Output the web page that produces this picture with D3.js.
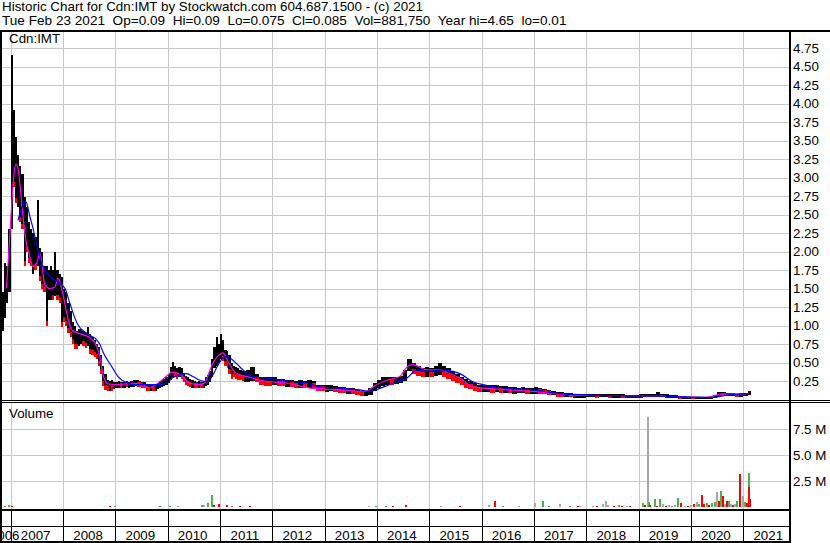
<!DOCTYPE html>
<html><head><meta charset="utf-8">
<script src="https://cdn.jsdelivr.net/npm/d3@7"></script>
<style>
html,body{margin:0;padding:0;background:#fff;}
svg{display:block;font-family:"Liberation Sans",Arial,sans-serif;}
</style></head><body>
<svg id="c" width="830" height="543"></svg>
<script>
// ---------------- data ----------------
const title1 = "Historic Chart for Cdn:IMT by Stockwatch.com 604.687.1500 - (c) 2021";
const title2 = "Tue Feb 23 2021  Op=0.09  Hi=0.09  Lo=0.075  Cl=0.085  Vol=881,750  Year hi=4.65  lo=0.01";
const symbolLabel = "Cdn:IMT";
const volumeLabel = "Volume";
const yearLabels = [2006,2007,2008,2009,2010,2011,2012,2013,2014,2015,2016,2017,2018,2019,2020,2021];
const priceTicks = [0.25,0.5,0.75,1,1.25,1.5,1.75,2,2.25,2.5,2.75,3,3.25,3.5,3.75,4,4.25,4.5,4.75];
const volTicks = [2.5,5,7.5];
const lastDate = "2021-02-23";

const barDates = [
"2006-11-01","2006-11-16","2006-12-01","2006-12-16",
"2007-01-01","2007-01-16","2007-02-01","2007-02-16","2007-03-01","2007-03-16","2007-04-01","2007-04-16","2007-05-01","2007-05-16","2007-06-01","2007-06-16",
"2007-07-01","2007-07-16","2007-08-01","2007-08-16","2007-09-01","2007-09-16","2007-10-01","2007-10-16","2007-11-01","2007-11-16","2007-12-01","2007-12-16",
"2008-01-01","2008-01-16","2008-02-01","2008-02-16","2008-03-01","2008-03-16","2008-04-01","2008-04-16","2008-05-01","2008-05-16","2008-06-01","2008-06-16",
"2008-07-01","2008-07-16","2008-08-01","2008-08-16","2008-09-01","2008-09-16","2008-10-01","2008-10-16","2008-11-01","2008-11-16","2008-12-01","2008-12-16",
"2009-01-01","2009-01-16","2009-02-01","2009-02-16","2009-03-01","2009-03-16","2009-04-01","2009-04-16","2009-05-01","2009-05-16","2009-06-01","2009-06-16",
"2009-07-01","2009-07-16","2009-08-01","2009-08-16","2009-09-01","2009-09-16","2009-10-01","2009-10-16","2009-11-01","2009-11-16","2009-12-01","2009-12-16",
"2010-01-01","2010-01-16","2010-02-01","2010-02-16","2010-03-01","2010-03-16","2010-04-01","2010-04-16","2010-05-01","2010-05-16","2010-06-01","2010-06-16",
"2010-07-01","2010-07-16","2010-08-01","2010-08-16","2010-09-01","2010-09-16","2010-10-01","2010-10-16","2010-11-01","2010-11-16","2010-12-01","2010-12-16",
"2011-01-01","2011-01-16","2011-02-01","2011-02-16","2011-03-01","2011-03-16","2011-04-01","2011-04-16","2011-05-01","2011-05-16","2011-06-01","2011-06-16",
"2011-07-01","2011-08-01","2011-09-01","2011-10-01","2011-11-01","2011-12-01",
"2012-01-01","2012-02-01","2012-03-01","2012-04-01","2012-05-01","2012-06-01","2012-07-01","2012-08-01","2012-09-01","2012-10-01","2012-11-01","2012-12-01",
"2013-01-01","2013-02-01","2013-03-01","2013-04-01","2013-05-01","2013-06-01","2013-07-01","2013-08-01","2013-09-01","2013-10-01","2013-11-01","2013-12-01",
"2014-01-01","2014-02-01","2014-03-01","2014-04-01","2014-05-01","2014-06-01","2014-07-01","2014-08-01","2014-09-01","2014-10-01","2014-11-01","2014-12-01",
"2015-01-01","2015-02-01","2015-03-01","2015-04-01","2015-05-01","2015-06-01","2015-07-01","2015-08-01","2015-09-01","2015-10-01","2015-11-01","2015-12-01",
"2016-01-01","2016-02-01","2016-03-01","2016-04-01","2016-05-01","2016-06-01","2016-07-01","2016-08-01","2016-09-01","2016-10-01","2016-11-01","2016-12-01",
"2017-01-01","2017-02-01","2017-03-01","2017-04-01","2017-05-01","2017-06-01","2017-07-01","2017-08-01","2017-09-01","2017-10-01","2017-11-01","2017-12-01",
"2018-01-01","2018-02-01","2018-03-01","2018-04-01","2018-05-01","2018-06-01","2018-07-01","2018-08-01","2018-09-01","2018-10-01","2018-11-01","2018-12-01",
"2019-01-01","2019-02-01","2019-03-01","2019-04-01","2019-05-01","2019-06-01","2019-07-01","2019-08-01","2019-09-01","2019-10-01","2019-11-01","2019-12-01",
"2020-01-01","2020-02-01","2020-03-01","2020-04-01","2020-05-01","2020-06-01","2020-07-01","2020-08-01","2020-09-01","2020-10-01","2020-11-01","2020-12-01",
"2021-01-01","2021-02-01"];

const barHigh = [
1.45,1.84,1.8,2.3,
4.65,3.91,3.55,3.3,3.15,3.05,2.74,2.6,2.4,2.3,2.25,2.2,
2.7,2.05,2.0,1.8,1.8,1.75,1.8,1.75,2.0,1.75,1.7,1.65,
1.5,1.45,1.3,1.2,1.05,1.0,0.92,0.95,0.95,0.92,0.9,0.98,
0.88,0.85,0.8,0.75,0.71,0.6,0.45,0.35,0.26,0.25,0.26,0.24,
0.24,0.25,0.24,0.23,0.24,0.25,0.24,0.25,0.26,0.27,0.26,0.25,
0.24,0.23,0.2,0.19,0.2,0.19,0.2,0.22,0.25,0.27,0.28,0.3,
0.35,0.44,0.51,0.45,0.42,0.44,0.42,0.36,0.32,0.3,0.28,0.26,
0.25,0.24,0.25,0.24,0.25,0.3,0.33,0.38,0.55,0.71,0.85,0.75,
0.89,0.8,0.67,0.65,0.6,0.5,0.45,0.44,0.42,0.4,0.38,0.38,
0.4,0.44,0.35,0.31,0.3,0.3,
0.3,0.28,0.28,0.27,0.26,0.25,0.26,0.25,0.26,0.25,0.2,0.2,
0.19,0.2,0.18,0.17,0.17,0.16,0.15,0.13,0.12,0.12,0.15,0.22,
0.26,0.3,0.31,0.3,0.31,0.32,0.4,0.55,0.5,0.45,0.42,0.44,
0.43,0.45,0.49,0.45,0.42,0.38,0.35,0.3,0.28,0.25,0.22,0.2,
0.2,0.2,0.19,0.19,0.18,0.18,0.17,0.17,0.16,0.17,0.16,0.16,
0.17,0.16,0.14,0.13,0.12,0.1,0.1,0.09,0.09,0.08,0.08,0.08,
0.08,0.08,0.07,0.08,0.08,0.07,0.07,0.08,0.07,0.06,0.06,0.06,
0.07,0.08,0.08,0.07,0.1,0.07,0.07,0.06,0.06,0.05,0.05,0.04,
0.04,0.04,0.03,0.04,0.04,0.06,0.1,0.1,0.09,0.09,0.08,0.09,
0.09,0.11];

const barLow = [
0.92,1.1,1.3,1.45,
2.3,2.87,2.65,2.6,2.4,2.3,1.8,2.0,1.85,1.8,1.7,1.75,
1.8,1.6,1.5,1.45,1.0,1.35,1.35,1.35,1.4,1.35,1.3,0.98,
1.05,1.0,0.9,0.85,0.75,0.68,0.68,0.72,0.75,0.72,0.7,0.72,
0.62,0.6,0.58,0.55,0.45,0.35,0.18,0.13,0.12,0.12,0.12,0.14,
0.15,0.16,0.16,0.15,0.16,0.17,0.16,0.17,0.17,0.18,0.17,0.17,
0.16,0.15,0.12,0.11,0.11,0.12,0.12,0.14,0.15,0.17,0.18,0.19,
0.22,0.26,0.3,0.3,0.28,0.3,0.28,0.24,0.2,0.18,0.17,0.16,
0.15,0.15,0.15,0.15,0.16,0.18,0.2,0.24,0.3,0.42,0.45,0.5,
0.55,0.52,0.45,0.42,0.35,0.28,0.3,0.28,0.27,0.26,0.25,0.24,
0.24,0.25,0.24,0.2,0.18,0.18,
0.19,0.18,0.18,0.17,0.17,0.16,0.16,0.15,0.16,0.15,0.12,0.11,
0.1,0.12,0.1,0.09,0.09,0.08,0.08,0.06,0.05,0.05,0.06,0.12,
0.15,0.18,0.2,0.2,0.21,0.22,0.25,0.38,0.35,0.32,0.3,0.3,
0.31,0.32,0.33,0.3,0.28,0.25,0.22,0.2,0.16,0.14,0.12,0.1,
0.1,0.1,0.09,0.1,0.09,0.09,0.09,0.08,0.09,0.09,0.08,0.08,
0.08,0.07,0.07,0.06,0.06,0.04,0.03,0.03,0.03,0.02,0.02,0.02,
0.03,0.03,0.02,0.03,0.03,0.02,0.02,0.02,0.02,0.02,0.02,0.02,
0.02,0.03,0.03,0.03,0.03,0.03,0.02,0.02,0.02,0.01,0.01,0.01,
0.01,0.01,0.01,0.01,0.01,0.02,0.04,0.05,0.05,0.05,0.04,0.04,
0.05,0.06];

const barClose = [
1.0,1.5,1.55,2.2,
3.5,3.2,3.0,3.1,2.7,2.6,2.3,2.2,2.0,1.95,2.0,1.9,
1.95,1.75,1.7,1.55,1.5,1.5,1.55,1.45,1.6,1.55,1.5,1.35,
1.3,1.2,1.1,1.0,0.9,0.85,0.8,0.85,0.85,0.82,0.8,0.85,
0.75,0.7,0.68,0.62,0.55,0.42,0.25,0.2,0.18,0.2,0.18,0.2,
0.2,0.21,0.19,0.2,0.21,0.2,0.2,0.21,0.22,0.22,0.21,0.2,
0.19,0.18,0.15,0.14,0.15,0.14,0.16,0.18,0.2,0.22,0.24,0.26,
0.3,0.36,0.4,0.38,0.35,0.38,0.33,0.28,0.25,0.22,0.2,0.2,
0.19,0.18,0.19,0.18,0.2,0.25,0.28,0.33,0.45,0.6,0.6,0.62,
0.7,0.62,0.55,0.5,0.42,0.38,0.36,0.34,0.33,0.32,0.3,0.3,
0.3,0.3,0.28,0.25,0.24,0.23,
0.25,0.23,0.22,0.22,0.21,0.2,0.21,0.2,0.2,0.19,0.16,0.15,
0.15,0.16,0.14,0.13,0.12,0.12,0.11,0.1,0.09,0.09,0.12,0.18,
0.22,0.25,0.26,0.25,0.27,0.28,0.35,0.45,0.4,0.38,0.36,0.38,
0.37,0.4,0.4,0.36,0.33,0.3,0.27,0.24,0.2,0.18,0.16,0.14,
0.14,0.15,0.14,0.14,0.13,0.13,0.12,0.12,0.12,0.12,0.11,0.11,
0.12,0.11,0.1,0.09,0.09,0.07,0.06,0.06,0.05,0.05,0.05,0.05,
0.05,0.05,0.04,0.05,0.05,0.04,0.04,0.05,0.04,0.04,0.04,0.04,
0.05,0.05,0.05,0.05,0.05,0.04,0.04,0.04,0.04,0.03,0.03,0.03,
0.02,0.02,0.02,0.02,0.03,0.04,0.08,0.07,0.07,0.07,0.06,0.07,
0.07,0.085];

// short moving average (magenta)
const magDates = ["2006-12-02","2006-12-19","2007-01-10","2007-01-24","2007-02-07","2007-02-21","2007-03-07","2007-03-21","2007-04-04","2007-04-17",
"2007-05-15","2007-06-05","2007-07-03","2007-07-24","2007-08-28","2007-10-02","2007-11-06","2007-11-27","2007-12-31","2008-01-28",
"2008-03-03","2008-04-28","2008-06-24","2008-08-12","2008-09-16","2008-10-07","2008-10-21","2008-11-10","2009-01-19","2009-05-04",
"2009-08-30","2009-10-25","2009-12-27","2010-01-31","2010-03-07","2010-04-18","2010-06-05","2010-08-14","2010-09-18","2010-10-23",
"2010-11-27","2011-01-01","2011-01-21","2011-02-25","2011-04-01","2011-04-29","2011-07-08","2011-10-07","2012-04-12","2012-10-11",
"2013-04-16","2013-10-22","2013-12-03","2014-03-11","2014-06-10","2014-07-29","2014-09-09","2014-12-16","2015-03-16","2015-05-25",
"2015-08-03","2015-11-01","2016-02-07","2016-12-25","2017-09-29","2019-01-10","2020-04-22","2020-07-22","2021-02-16"];
const magVals = [1.5,2.0,2.7,3.05,3.18,3.12,2.9,2.6,2.35,2.15,
1.93,1.8,1.85,1.98,1.55,1.5,1.52,1.64,1.43,1.16,
0.94,0.89,0.85,0.76,0.57,0.33,0.26,0.21,0.2,0.22,
0.16,0.22,0.32,0.37,0.36,0.3,0.22,0.2,0.23,0.4,
0.54,0.61,0.63,0.52,0.4,0.35,0.31,0.26,0.22,0.15,
0.13,0.11,0.17,0.26,0.31,0.44,0.47,0.4,0.4,0.35,
0.29,0.17,0.15,0.11,0.06,0.05,0.03,0.07,0.08];

// long moving average (blue)
const blueDates = ["2007-02-21","2007-03-21","2007-04-17","2007-05-15","2007-06-05","2007-07-03","2007-08-14","2007-10-02","2007-11-27","2008-01-15",
"2008-02-18","2008-04-08","2008-06-17","2008-08-26","2008-09-16","2008-10-07","2008-12-08","2009-01-19","2009-03-30","2009-05-04",
"2009-11-08","2009-12-27","2010-01-31","2010-03-28","2010-05-15","2010-06-26","2010-08-14","2010-10-02","2010-11-06","2010-12-11",
"2011-01-21","2011-02-25","2011-04-01","2011-05-20","2011-07-08","2011-08-19","2011-11-24","2012-04-12","2012-08-29","2012-11-28",
"2013-04-16","2013-09-03","2013-11-12","2014-01-21","2014-04-22","2014-07-29","2014-10-07","2014-12-16","2015-03-16","2015-06-15",
"2015-08-03","2015-11-01","2016-01-10","2016-06-26","2016-12-25","2017-07-01","2018-01-26","2019-01-10","2019-08-28","2020-06-03",
"2020-09-09","2021-02-16"];
const blueVals = [2.42,2.6,2.67,2.47,2.32,2.07,1.8,1.66,1.59,1.5,
1.3,1.03,0.89,0.8,0.74,0.64,0.44,0.31,0.22,0.2,
0.2,0.22,0.29,0.33,0.35,0.31,0.26,0.24,0.31,0.44,
0.56,0.58,0.53,0.44,0.35,0.31,0.29,0.25,0.22,0.17,
0.15,0.13,0.11,0.15,0.22,0.29,0.4,0.38,0.4,0.38,
0.35,0.24,0.2,0.15,0.13,0.08,0.06,0.05,0.04,0.03,
0.06,0.08];

// volume (millions); dir: 1 up (green), -1 down (red), 0 unchanged (grey)
const volDates = ["2006-11-20","2006-12-20","2007-01-10","2008-11-26","2009-01-01","2009-11-08","2010-01-18","2010-03-14","2010-08-28","2010-09-11",
"2010-10-09","2010-11-06","2010-11-20","2010-12-25","2011-02-18","2011-03-25","2011-05-20","2011-07-29","2013-11-05","2013-12-27",
"2014-03-05","2014-04-20","2014-07-20","2015-03-23","2015-08-05","2016-02-20","2016-04-05","2016-06-01","2016-09-15","2017-01-10",
"2017-03-05","2017-04-15","2017-07-01","2017-09-10","2017-11-01","2017-11-15","2018-02-15","2018-03-15","2018-04-25","2018-05-20",
"2018-06-01","2018-07-15","2018-08-15","2018-09-10","2018-10-10","2018-11-05","2019-02-01","2019-02-15","2019-03-10","2019-03-12",
"2019-03-25","2019-04-25","2019-05-10","2019-06-01","2019-06-20","2019-07-10","2019-08-01","2019-08-20","2019-09-10","2019-10-05",
"2019-10-22","2019-11-20","2019-12-15","2020-01-03","2020-01-20","2020-02-10","2020-03-01","2020-03-20","2020-04-05","2020-04-22",
"2020-05-10","2020-05-30","2020-06-20","2020-07-01","2020-07-18","2020-07-28","2020-08-10","2020-08-28","2020-09-10","2020-09-25",
"2020-10-08","2020-10-22","2020-11-05","2020-11-20","2020-12-10","2020-12-27","2021-01-15","2021-01-28","2021-02-10","2021-02-11",
"2021-02-20"];
const volVals = [0.1,0.15,0.08,0.05,0.05,0.06,0.12,0.1,0.15,0.15,
0.35,1.15,0.2,0.3,0.15,0.06,0.1,0.06,0.05,0.05,
0.06,0.05,0.15,0.06,0.05,0.2,0.62,0.06,0.06,0.43,
0.55,0.06,0.3,0.1,0.06,0.06,0.05,0.07,0.3,0.6,
0.2,0.1,0.15,0.1,0.12,0.1,0.35,0.15,8.7,0.5,
0.2,0.8,0.1,0.8,0.3,0.1,0.15,0.12,0.2,0.85,
0.35,0.1,0.12,0.15,0.3,0.5,0.25,1.15,0.3,0.4,
0.2,0.4,0.5,1.45,0.6,1.57,1.1,0.25,0.6,0.6,
0.3,0.15,0.3,0.6,3.17,1.05,0.5,0.4,3.3,1.9,
0.8];
const volDir = [1,1,-1,-1,1,1,1,0,1,0,
1,1,-1,-1,-1,1,-1,-1,0,1,
1,-1,-1,0,-1,0,-1,1,0,0,
1,1,0,1,-1,0,0,-1,0,0,
0,-1,1,-1,0,-1,1,-1,0,1,
-1,1,-1,1,0,-1,0,1,0,1,
-1,0,-1,0,-1,0,1,-1,-1,1,
-1,1,1,0,-1,1,-1,0,-1,1,
0,-1,0,1,-1,0,1,-1,1,-1,
-1];

// ---------------- drawing ----------------
const W = 830, H = 543;
const FONT = "Liberation Sans, Arial, sans-serif";
const parse = d3.timeParse("%Y-%m-%d");
const svg = d3.select("#c");
const L = 2, R = 789;            // plot left / right
const PT = 32, PB = 400;         // price panel
const VT = 403, VB = 509;        // volume panel

const x = d3.scaleTime().domain([new Date(2007,0,1), new Date(2021,0,1)]).range([10.7, 743.3]);
const yP = d3.scaleLinear().domain([0, 4.75]).range([399.5, 48]);
const yV = d3.scaleLinear().domain([0, 10]).range([507, 403]);
const px = v => Math.round(v) + 0.5;

svg.append("rect").attr("width", W).attr("height", H).attr("fill", "#fff");

// header
svg.append("text").attr("x", 2).attr("y", 11).attr("font-size", 13.4).attr("font-family", FONT)
  .style("white-space","pre").text(title1);
svg.append("text").attr("x", 2).attr("y", 24.5).attr("font-size", 13.6).attr("font-family", FONT)
  .style("white-space","pre").text(title2);

const gridCol = "#c8c8c8";
const yearTicks = yearLabels.slice(1).map(y => new Date(y, 0, 1));

// price grid
const g = svg.append("g").attr("shape-rendering","crispEdges");
g.selectAll(".hp").data(priceTicks).join("line")
  .attr("x1", L).attr("x2", R).attr("y1", d => px(yP(d))).attr("y2", d => px(yP(d)))
  .attr("stroke", gridCol);
g.selectAll(".vp").data(yearTicks).join("line")
  .attr("x1", d => px(x(d))).attr("x2", d => px(x(d))).attr("y1", PT).attr("y2", PB)
  .attr("stroke", gridCol);
// volume grid
g.selectAll(".hv").data(volTicks).join("line")
  .attr("x1", L).attr("x2", R).attr("y1", d => px(yV(d))).attr("y2", d => px(yV(d)))
  .attr("stroke", gridCol);
g.selectAll(".vv").data(yearTicks).join("line")
  .attr("x1", d => px(x(d))).attr("x2", d => px(x(d))).attr("y1", VT).attr("y2", VB)
  .attr("stroke", gridCol);

// clips
const defs = svg.append("defs");
defs.append("clipPath").attr("id","cp").append("rect").attr("x", L).attr("y", PT).attr("width", R-L).attr("height", PB-PT);
defs.append("clipPath").attr("id","cv").append("rect").attr("x", L).attr("y", VT).attr("width", R-L).attr("height", VB-VT);

// price bars: black high-low range, red lower part on down bars
const bars = barDates.map((d,i) => ({t: parse(d), hi: barHigh[i], lo: barLow[i], c: barClose[i]}));
const endT = parse(lastDate);
bars.forEach((d,i) => {
  d.x0 = x(d.t);
  d.w = Math.max(1, (i < bars.length-1 ? x(bars[i+1].t) : x(endT)) - d.x0);
  d.down = i > 0 && d.c < bars[i-1].c;
  d.rh = Math.max(1.5, Math.min(5, 0.75*(yP(d.lo)-yP(d.hi))));
});
const pg = svg.append("g").attr("clip-path","url(#cp)").attr("shape-rendering","crispEdges");
pg.selectAll(".b").data(bars).join("rect")
  .attr("x", d => d.x0).attr("width", d => d.w)
  .attr("y", d => yP(d.hi))
  .attr("height", d => Math.max(1, yP(d.lo) - yP(d.hi)))
  .attr("fill", "#000");
pg.selectAll(".r").data(bars.filter(d => d.down)).join("rect")
  .attr("x", d => d.x0).attr("width", d => d.w)
  .attr("y", d => yP(d.lo) - d.rh)
  .attr("height", d => d.rh)
  .attr("fill", "#ff0000");

// moving averages
const lg = svg.append("g").attr("clip-path","url(#cp)");
const line = d3.line().x(d => x(d.t)).y(d => yP(d.v)).curve(d3.curveMonotoneX);
lg.append("path").datum(magDates.map((d,i) => ({t: parse(d), v: magVals[i]})))
  .attr("d", line).attr("fill","none").attr("stroke","#ff00ff").attr("stroke-width",1.2);
lg.append("path").datum(blueDates.map((d,i) => ({t: parse(d), v: blueVals[i]})))
  .attr("d", line).attr("fill","none").attr("stroke","#0000ff").attr("stroke-width",1.2);

// volume bars
const vols = volDates.map((d,i) => ({t: parse(d), v: volVals[i], dir: volDir[i]}))
  .sort((a,b) => b.v - a.v);
const volCol = {"1":"#4caf50","-1":"#ff0000","0":"#a8a8a8"};
svg.append("g").attr("clip-path","url(#cv)").attr("shape-rendering","crispEdges")
  .selectAll("rect").data(vols).join("rect")
  .attr("x", d => Math.round(x(d.t)) - 1).attr("width", 2)
  .attr("y", d => yV(d.v)).attr("height", d => Math.max(1, yV(0) - yV(d.v)))
  .attr("fill", d => volCol[String(d.dir)]);

// frame lines
const f = svg.append("g").attr("shape-rendering","crispEdges").attr("fill","#000");
f.append("rect").attr("x",0).attr("y",30).attr("width",W).attr("height",2);
f.append("rect").attr("x",0).attr("y",400).attr("width",W).attr("height",1);
f.append("rect").attr("x",0).attr("y",402).attr("width",W).attr("height",1);
f.append("rect").attr("x",0).attr("y",509).attr("width",R+2).attr("height",2);
f.append("rect").attr("x",0).attr("y",526).attr("width",R+2).attr("height",1);
f.append("rect").attr("x",0).attr("y",541).attr("width",R+2).attr("height",2);
f.append("rect").attr("x",0).attr("y",30).attr("width",2).attr("height",H-30);
f.append("rect").attr("x",R).attr("y",30).attr("width",2).attr("height",H-30);
f.selectAll(".yt").data(yearTicks).join("rect")
  .attr("x", d => Math.round(x(d))).attr("y", 511).attr("width",1).attr("height",30);

// panel labels
svg.append("text").attr("x",9).attr("y",43).attr("font-size",13.33).attr("font-family",FONT).text(symbolLabel);
svg.append("text").attr("x",9).attr("y",418).attr("font-size",13.33).attr("font-family",FONT).text(volumeLabel);

// right axes
const pa = svg.append("g").attr("transform", `translate(${R+1},0)`)
  .call(d3.axisRight(yP).tickValues(priceTicks).tickFormat(d3.format(".2f")).tickSize(0).tickPadding(3));
const va = svg.append("g").attr("transform", `translate(${R+1},0)`)
  .call(d3.axisRight(yV).tickValues(volTicks).tickFormat(d => d.toFixed(1) + " M").tickSize(0).tickPadding(3));
[pa, va].forEach(a => {
  a.select(".domain").remove();
  a.selectAll("text").attr("font-size",13.33).attr("font-family",FONT).attr("fill","#000");
});

// year labels
const xa = svg.append("g").attr("transform","translate(0,527)")
  .call(d3.axisBottom(x).tickValues(yearLabels.slice(1).map(y => new Date(y,6,1)))
        .tickFormat(d3.timeFormat("%Y")).tickSize(0).tickPadding(0));
xa.select(".domain").remove();
xa.selectAll("text").attr("font-size",13.33).attr("font-family",FONT).attr("fill","#000")
  .attr("dy",null).attr("y",12.5).attr("dx",-1.5);
svg.append("text").attr("x",19.5).attr("y",539.5).attr("text-anchor","end")
  .attr("font-size",13.33).attr("font-family",FONT).text(String(yearLabels[0]));
</script>
</body></html>
